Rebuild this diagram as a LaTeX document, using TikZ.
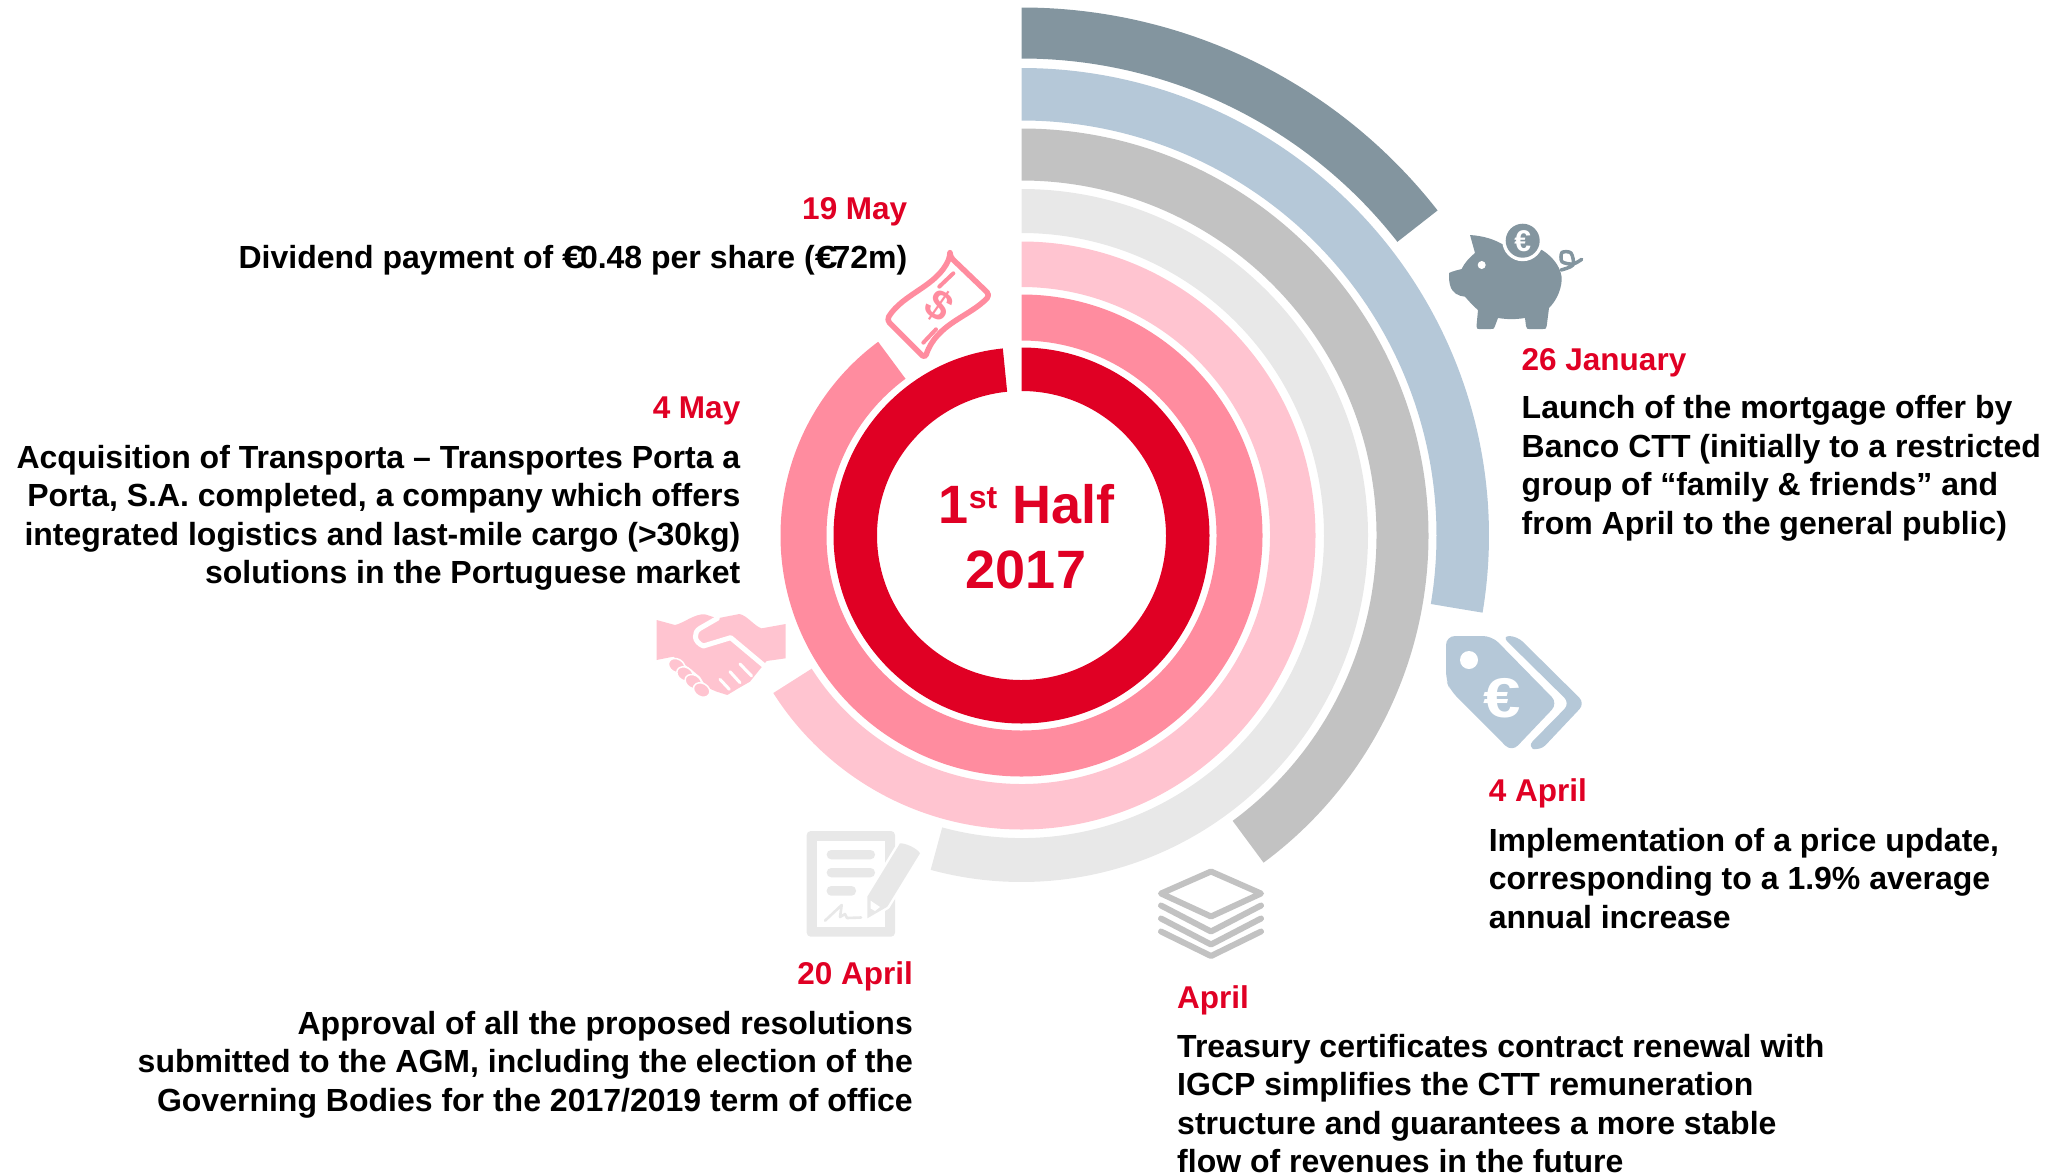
\documentclass[tikz,border=0pt]{standalone}
\usepackage{graphicx}
\usepackage{fontspec}
\setmainfont{Liberation Sans}
\definecolor{ctA}{HTML}{83959F}
\definecolor{ctB}{HTML}{B5C8D8}
\definecolor{ctC}{HTML}{C2C2C2}
\definecolor{ctD}{HTML}{E8E8E8}
\definecolor{ctE}{HTML}{FFC4D0}
\definecolor{ctF}{HTML}{FF8C9F}
\definecolor{ctR}{HTML}{E00024}
\newcommand{\ringarc}[4]{%
  \fill[#4,shift={(1021.5,-535.5)}] (90:#1) arc[start angle=90,end angle=#3,radius=#1 pt] -- (#3:#2) arc[start angle=#3,end angle=90,radius=#2 pt] -- cycle;}
\newcommand{\eur}{\makebox[.556em][l]{\scalebox{1.28}[1]{€}}}
\tikzset{
  head/.style={inner sep=0pt,text=ctR,font=\fontsize{31.5}{38.5}\selectfont\bfseries},
  para/.style={inner sep=0pt,text=black,font=\fontsize{32}{38.5}\selectfont\bfseries},
  parl/.style={para,align=left,anchor=north west},
  parr/.style={para,align=right,anchor=north east},
  centretext/.style={inner sep=0pt,text=ctR,anchor=base,font=\fontsize{54}{64.5}\selectfont\bfseries},
  iconline/.style={line cap=round,line join=round},
}
\begin{document}
\begin{tikzpicture}[x=1pt,y=1pt]
\useasboundingbox (0,0) rectangle (2062,-1173);
% rings
\ringarc{528}{477}{38}{ctA}
\ringarc{467.5}{415}{-9.5}{ctB}
\ringarc{407}{355}{-53.5}{ctC}
\ringarc{346.5}{302.5}{-105.2}{ctD}
\ringarc{294}{248.5}{-147.6}{ctE}
\ringarc{241}{195}{-233.5}{ctF}
\ringarc{188}{144.5}{-264.3}{ctR}
% centre text
\node[centretext] (t1) at (1026.5,-523) {1\raisebox{15pt}{\fontsize{32}{32}\selectfont st} Half};
\node[centretext] (t2) at (1026,-588) {2017};
% labels
\node[head,anchor=base east] (h1) at (907.5,-219) {19 May};
\node[para,anchor=base east] (p1) at (907.5,-268) {Dividend payment of \eur0.48 per share (\eur72m)};
\node[head,anchor=base east] (h2) at (740.5,-418) {4 May};
\node[parr] (p2) at (740.5,-445) {Acquisition of Transporta – Transportes Porta a\\Porta, S.A. completed, a company which offers\\integrated logistics and last-mile cargo (>30kg)\\solutions in the Portuguese market};
\node[head,anchor=base west] (h3) at (1521.5,-370) {26 January};
\node[parl] (p3) at (1521.5,-395.5) {Launch of the mortgage offer by\\Banco CTT (initially to a restricted\\group of “family \& friends” and\\from April to the general public)};
\node[head,anchor=base west] (h4) at (1488.6,-801) {4 April};
\node[parl] (p4) at (1488.6,-828) {Implementation of a price update,\\corresponding to a 1.9\% average\\annual increase};
\node[head,anchor=base east] (h5) at (913,-984) {20 April};
\node[parr] (p5) at (913,-1011) {Approval of all the proposed resolutions\\submitted to the AGM, including the election of the\\Governing Bodies for the 2017/2019 term of office};
\node[head,anchor=base west] (h6) at (1177,-1008) {April};
\node[parl] (p6) at (1177,-1034) {Treasury certificates contract renewal with\\IGCP simplifies the CTT remuneration\\structure and guarantees a more stable\\flow of revenues in the future};
% piggy
\fill[ctA] (1470,-235) .. controls (1485,-236) and (1495,-240) .. (1502,-244) -- (1542,-250) .. controls (1555,-258) and (1562,-270) .. (1561.7,-280) .. controls (1561,-292) and (1555,-302) .. (1549,-308) -- (1546.7,-326) .. controls (1546,-329) .. (1543,-329) -- (1529,-329) .. controls (1527,-329) .. (1526,-326) -- (1525,-318) .. controls (1515,-319.5) and (1508,-319.5) .. (1498,-318) -- (1495,-326) .. controls (1494,-329) .. (1491,-329) -- (1479,-329) .. controls (1477,-329) .. (1476.5,-326) -- (1478,-310) .. controls (1472,-305) and (1468,-300) .. (1465,-296.7) .. controls (1458,-296) and (1452,-293) .. (1450,-285) .. controls (1449,-280) .. (1449,-273) .. controls (1453,-271) and (1458,-270) .. (1461.7,-269) .. controls (1465,-262) and (1470,-257) .. (1475,-253) -- cycle;
\fill[white] (1481.7,-265) circle[radius=4];
\fill[white] (1522.7,-240.7) circle[radius=20.5];
\fill[ctA] (1522.7,-240.7) circle[radius=17];
\node[inner sep=0pt,text=white,font=\fontsize{30}{30}\selectfont\bfseries] (pigeur) at (1522.7,-240.7) {€};
\draw[ctA,line width=3.5pt,iconline] plot[smooth] coordinates {(1561,-270) (1573,-265) (1571,-253) (1562,-252.5) (1562,-261.7) (1573,-264) (1581.7,-259.3)};
% tags
\fill[ctB,rounded corners=8pt] (1501.7,-636) -- (1517,-636) -- (1585,-703.3) -- (1540,-751) -- (1527,-747) -- (1570,-703.3) -- cycle;
\fill[ctB,rounded corners=9pt] (1446,-636) -- (1492,-636) -- (1558,-703.3) -- (1511.7,-752) -- (1450,-690) -- (1446,-680) -- cycle;
\fill[white] (1469,-660) circle[radius=9];
\node[inner sep=0pt,text=white,font=\fontsize{56}{56}\selectfont\bfseries] (tageur) at (1501.7,-698) {\scalebox{1.2}[1]{€}};
% stack
\draw[ctC,line width=6pt,iconline] (1211,-871.5) -- (1261,-893.5) -- (1211,-916.5) -- (1161,-893.5) -- cycle;
\draw[ctC,line width=6pt,iconline] (1161,-905.5) -- (1211,-931.5) -- (1261,-905.5);
\draw[ctC,line width=6pt,iconline] (1161,-918.5) -- (1211,-944.5) -- (1261,-918.5);
\draw[ctC,line width=6pt,iconline] (1161,-931.5) -- (1211,-956) -- (1261,-931.5);
% document
\fill[ctD,rounded corners=4pt] (806.7,-831) rectangle (895,-936.7);
\fill[white] (816.7,-840.7) rectangle (885,-926.7);
\fill[ctD,rounded corners=4.5pt] (826.7,-850) rectangle (875,-859.3);
\fill[ctD,rounded corners=4.5pt] (826.7,-868) rectangle (875,-877.3);
\fill[ctD,rounded corners=4.5pt] (826.7,-886) rectangle (856,-895.7);
\draw[ctD,line width=2.6pt,iconline] (825,-920.7) -- (841.7,-905) -- (840,-917) -- (845,-914) -- (847,-918) -- (861,-917.5);
\filldraw[ctD,draw=white,line width=5pt,line join=round] (900,-843.3) .. controls (905,-843) and (917,-848) .. (920,-853.3) -- (887.3,-906.7) -- (867.3,-918.3) -- (867.3,-896.7) -- cycle;
\fill[ctD] (900,-843.3) .. controls (905,-843) and (917,-848) .. (920,-853.3) -- (887.3,-906.7) -- (867.3,-918.3) -- (867.3,-896.7) -- cycle;
\fill[white] (870.7,-900.7) -- (880,-907) -- (875,-911) -- (870.7,-908.5) -- cycle;
% handshake
\begin{scope}[shift={(640,-600)},x=0.3333pt,y=-0.3333pt]
\fill[ctE] (50,60) -- (105,75) .. controls (130,70) and (165,40) .. (195,43) -- (232,55) -- (298,42) .. controls (320,45) and (345,80) .. (365,85) -- (437,72) -- (437,175) -- (380,183) -- (362,205) -- (330,245) -- (295,265) -- (262,285) -- (230,275) -- (200,262) -- (180,230) -- (150,205) -- (100,170) -- (50,180) -- cycle;
\draw[white,line width=5pt,line join=round,line cap=round] (232,55) -- (180,85) .. controls (160,97) and (160,125) .. (190,138) -- (272,113) -- (370,195);
\draw[white,line width=3pt,line cap=round] (300,192) -- (335,228);
\draw[white,line width=3pt,line cap=round] (270,215) -- (300,248);
\draw[white,line width=3pt,line cap=round] (240,238) -- (268,268);
\foreach \px/\py in {110/197,135/222,160/245,185/270}{
  \fill[ctE,draw=white,line width=1.5pt] (\px,\py) ellipse[x radius=26,y radius=20,rotate=-30];
}
\end{scope}
% banknote
\begin{scope}[shift={(640,-240)},x=0.3333pt,y=-0.3333pt]
\draw[ctF,line width=5.5pt,line join=round,rounded corners=4pt] (930,50) -- (1050,165) .. controls (990,230) and (890,250) .. (855,355) -- (740,240) .. controls (790,160) and (890,140) .. cycle;
\draw[ctF,line width=4pt,line cap=round] (898,140) -- (940,100);
\draw[ctF,line width=4pt,line cap=round] (850,308) -- (888,268);
\node[inner sep=0pt,text=ctF,rotate=-35,font=\fontsize{42}{42}\selectfont\bfseries] (bill) at (897,198) {\$};
\end{scope}
\end{tikzpicture}
\end{document}
